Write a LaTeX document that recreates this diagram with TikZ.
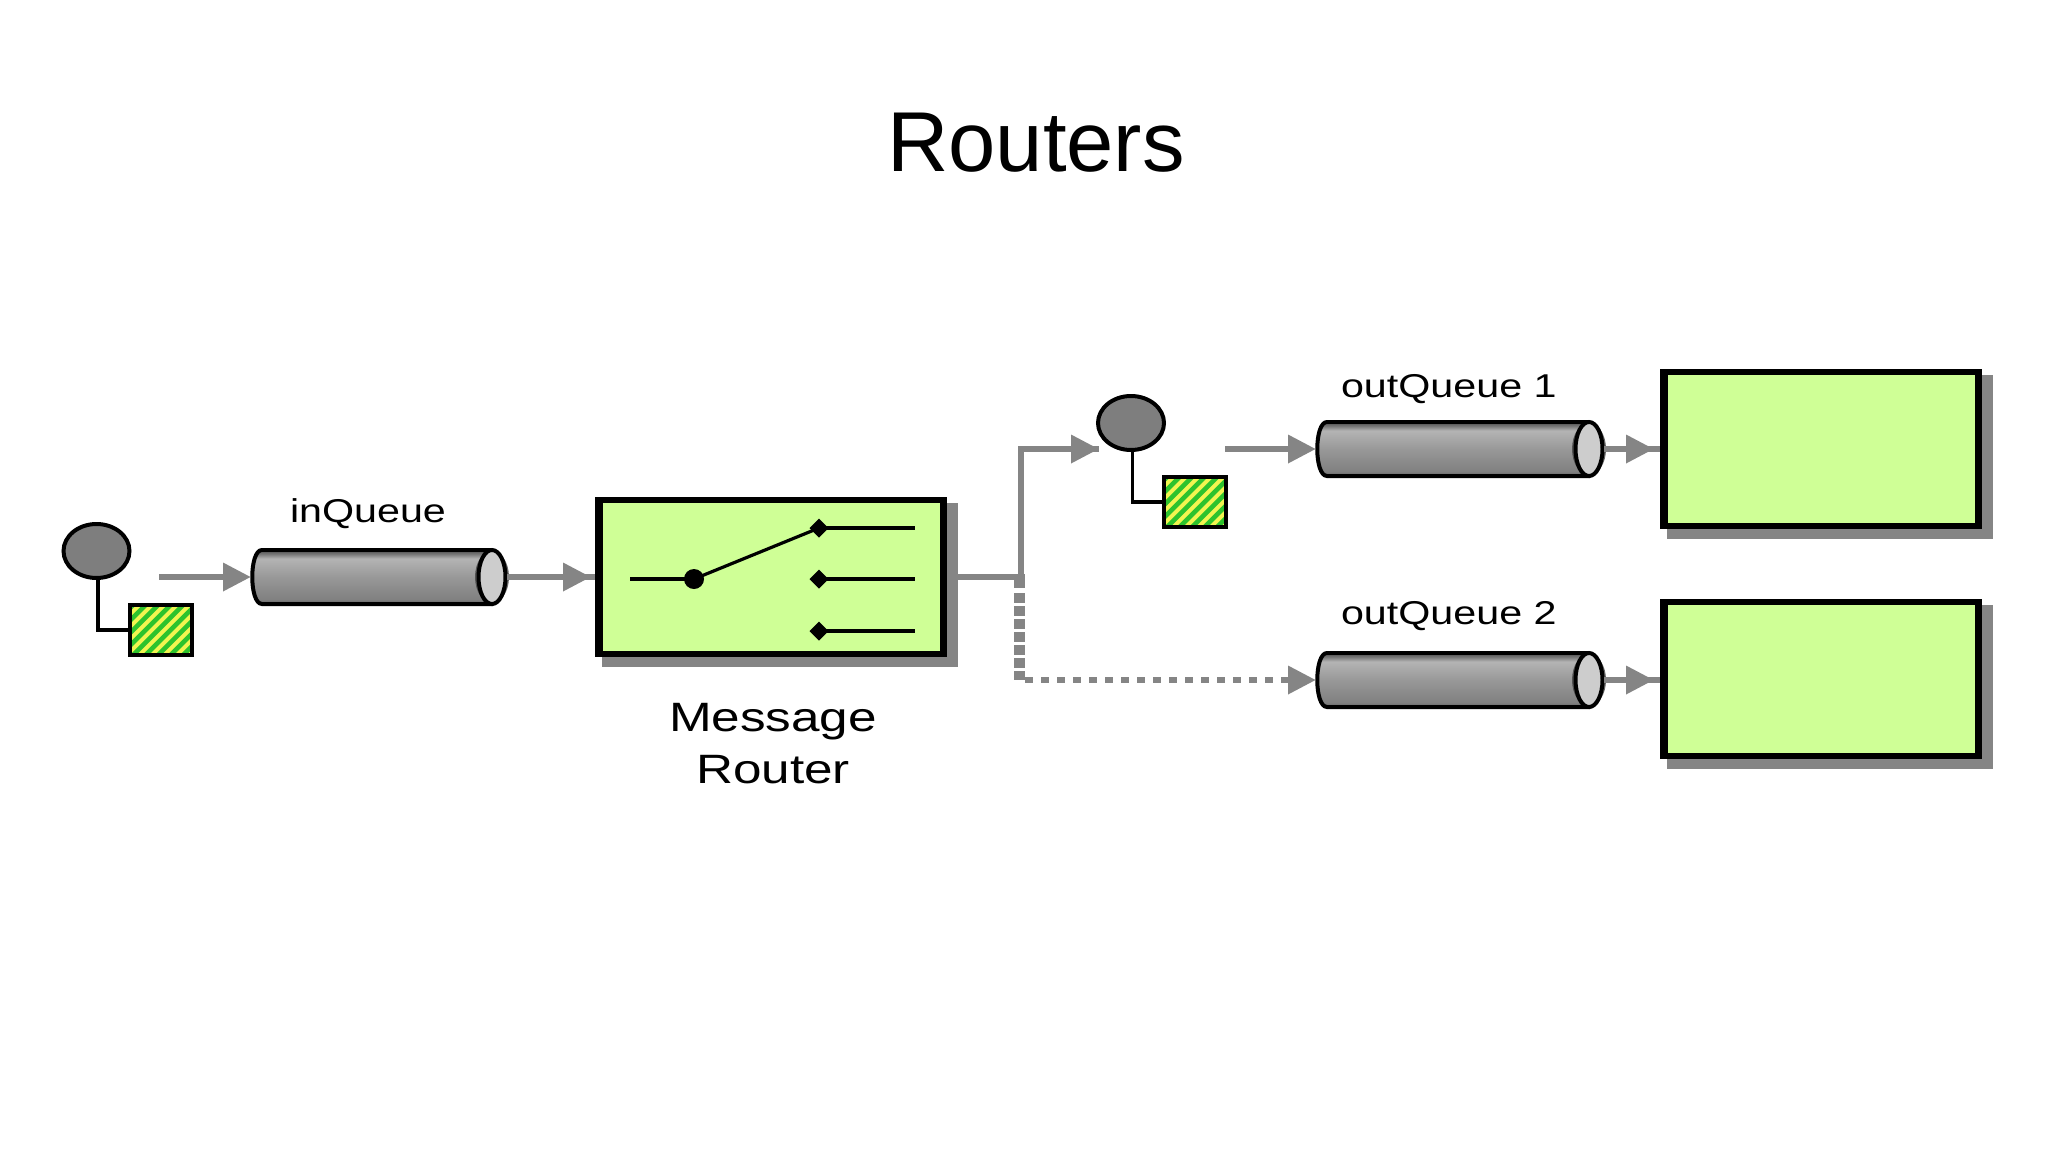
\documentclass[tikz,border=0pt]{standalone}
\usepackage{fontspec}
\setmainfont{Liberation Sans}
\newfontfamily\pixfont[FakeStretch=1.25]{Liberation Sans}
\usetikzlibrary{arrows.meta,shapes.geometric}
\definecolor{boxgreen}{HTML}{CFFF96}
\definecolor{flowgray}{HTML}{858585}
\definecolor{hatchgreen}{HTML}{2DC32D}
\definecolor{hatchyellow}{HTML}{F2F550}
\definecolor{capgray}{HTML}{CDCDCD}
\definecolor{cylA}{HTML}{6E6E6E}
\definecolor{cylB}{HTML}{B4B4B4}
\definecolor{cylC}{HTML}{989898}
\definecolor{cylD}{HTML}{808080}
\definecolor{cylE}{HTML}{5C5C5C}
\pgfdeclareverticalshading{cylshade}{100bp}{color(0bp)=(cylE); color(25bp)=(cylE); color(29bp)=(cylD); color(50bp)=(cylC); color(67bp)=(cylB); color(72bp)=(cylA); color(75bp)=(cylA); color(100bp)=(cylA)}
\tikzset{
  x=1pt,y=-1pt,
  anchorbox/.style={rectangle,inner sep=0pt,outer sep=0pt},
  outerbox/.style={anchorbox,fill=black},
  innerbox/.style={anchorbox,fill=boxgreen},
  shadowbox/.style={anchorbox,fill=flowgray},
  label text/.style={inner sep=0pt,outer sep=0pt,anchor=base west,font=\pixfont\fontsize{33}{40}\selectfont},
  flowline/.style={draw=flowgray,line width=6.5pt},
  flowhead/.style={flowgray,line width=6.5pt,-{Triangle[length=28pt,width=27pt]}},
  wire/.style={draw=black,line width=3.4pt},
  switchline/.style={draw=black,line width=3.2pt},
  pivotdot/.style={circle,fill=black,minimum size=20pt,inner sep=0pt,outer sep=0pt},
  contactdot/.style={diamond,fill=black,minimum size=19pt,inner sep=0pt,outer sep=0pt},
  circlenode/.style={ellipse,draw=black,line width=4pt,fill=flowgray!95!black,inner sep=0pt},
  hatchsq/.style={anchorbox,draw=black,line width=3.5pt,fill=hatchyellow,minimum width=62pt,minimum height=50pt},
}
% \cyl{name}{left x}{top y}{width}: queue drawn as a cylinder with a pale open end
\newcommand{\cyl}[4]{%
  \path[shading=cylshade,draw=black,line width=4pt]
    (#2+11,#3) -- (#2+#4-16,#3) -- (#2+#4-16,#3+54) -- (#2+11,#3+54)
    .. controls (#2-2,#3+54) and (#2-2,#3) .. (#2+11,#3) -- cycle;
  \fill[cylE!70!black,opacity=.8] (#2+#4-15,#3+27) ellipse[x radius=17pt,y radius=26pt];
  \draw[black,line width=4pt,fill=capgray] (#2+#4-15,#3+27) ellipse[x radius=13.5pt,y radius=27pt];
  \node[anchorbox,minimum width=#4 pt,minimum height=57pt,anchor=north west] (#1) at (#2,#3-1.5) {};
}
% \gbox{name}{outer l}{outer t}{outer r}{outer b}: green box with drop shadow
\newcommand{\gbox}[5]{%
  \node[shadowbox,minimum width=#4-#2+4,minimum height=#5-#3+4,anchor=north west] at (#2+7,#3+6) {};
  \node[outerbox,minimum width=#4-#2,minimum height=#5-#3,anchor=north west] (#1) at (#2,#3) {};
  \node[innerbox,minimum width=#4-#2-15,minimum height=#5-#3-12,anchor=north west] at (#2+7.5,#3+6) {};
}
\newcommand{\hatch}[3]{%
  \node[hatchsq,anchor=north west] (#1) at (#2,#3) {};
  \begin{scope}
    \clip (#2,#3) rectangle (#2+62,#3+50);
    \foreach \k in {-4,...,9}
      \draw[hatchgreen,line width=4.6pt] (#2-30+\k*12.5,#3+58) -- (#2+42+\k*12.5,#3-14);
  \end{scope}
  \draw[black,line width=3.5pt] (#2,#3) rectangle (#2+62,#3+50);
}
\begin{document}
\begin{tikzpicture}
\useasboundingbox (0,0) rectangle (2048,1152);
\fill[white] (0,0) rectangle (2048,1152);

\node[inner sep=0pt,outer sep=0pt,anchor=base,font=\fontsize{85}{90}\selectfont] (title) at (1036,171) {Routers};

% green boxes
\gbox{router}{595}{497}{947}{657}
\gbox{sinkA}{1660}{369}{1982}{529}
\gbox{sinkB}{1660}{599}{1982}{759}

% queues
\cyl{inq}{251}{550}{256}
\cyl{outqa}{1316}{422}{288}
\cyl{outqb}{1316}{653}{288}

\node[label text] (inlabel) at (290,522) {inQueue};
\node[label text] (outlabela) at (1341,397) {outQueue 1};
\node[label text] (outlabelb) at (1341,624) {outQueue 2};
\node[inner sep=0pt,outer sep=0pt,align=center,font=\pixfont\fontsize{41}{52}\selectfont] (routerlabel) at (773,744) {Message\\Router};

% channel endpoints
\node[circlenode,minimum width=66pt,minimum height=54pt] (srcA) at (96.5,551) {};
\hatch{msgA}{130}{605}
\node[circlenode,minimum width=66pt,minimum height=54pt] (srcB) at (1131,423) {};
\hatch{msgB}{1164}{477}
\draw[wire] ([xshift=1.5pt]srcA.south) |- (msgA.west);
\draw[wire] ([xshift=1.5pt]srcB.south) |- (msgB.west);

\coordinate (startA) at (159,577);
\coordinate (startB) at (1225,449);
\coordinate (endT) at (1099,449);
\coordinate (junction) at (1021,577);
\coordinate (junctionT) at (1021,449);
\coordinate (stubTop) at (1019.5,574);
\coordinate (stubEnd) at (1019.5,588);
\coordinate (dashTop) at (1019.5,593);
\coordinate (dashCorner) at (1019.5,680);
\coordinate (dashElbow) at (1025,680);
\coordinate (dashEnd) at (1288,680);

% flows
\draw[flowhead] (startA) -- (inq.west);
\draw[flowline] (inq.east) -- (router.west);
\draw[flowhead,shorten >=4pt] (inq.east) -- (router.west);
\draw[flowline,line join=miter] (router.east) -- (junction) -- (junctionT) -- (endT);
\draw[flowhead] (junctionT) -- (endT);
\draw[flowline,line width=11pt] (stubTop) -- (stubEnd);
\draw[flowline,line width=11pt,dash pattern=on 10pt off 3pt] (dashTop) -- (dashCorner);
\draw[flowline,line width=6.5pt,dash pattern=on 8pt off 8pt] (dashElbow) -- (dashEnd);
\draw[flowhead] (startB) -- (outqa.west);
\draw[flowhead] (dashEnd) -- (outqb.west);
\draw[flowline] (outqa.east) -- (sinkA.west);
\draw[flowhead,shorten >=6pt] (outqa.east) -- (sinkA.west);
\draw[flowline] (outqb.east) -- (sinkB.west |- outqb.east);
\draw[flowhead,shorten >=6pt] (outqb.east) -- (sinkB.west |- outqb.east);

% switch icon inside the router
\coordinate (swIn) at (630,579);
\node[pivotdot] (pivot) at (694,579) {};
\node[contactdot] (contactA) at (819,528) {};
\node[contactdot] (contactB) at (819,579) {};
\node[contactdot] (contactC) at (819,631) {};
\coordinate (outA) at (915,528);
\coordinate (outB) at (915,579);
\coordinate (outC) at (915,631);
\draw[switchline] (swIn) -- (pivot.center);
\draw[switchline] (pivot.center) -- (contactA.center);
\draw[switchline] (contactA.center) -- (outA);
\draw[switchline] (contactB.center) -- (outB);
\draw[switchline] (contactC.center) -- (outC);
\end{tikzpicture}
\end{document}
